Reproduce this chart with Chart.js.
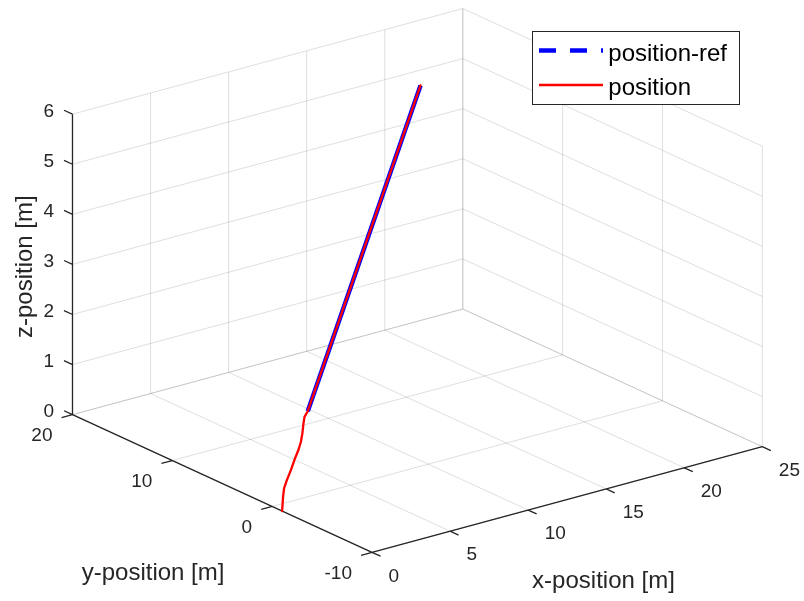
<!DOCTYPE html>
<html><head><meta charset="utf-8">
<script src="https://cdn.jsdelivr.net/npm/chart.js@4.4.1/dist/chart.umd.min.js"></script>
<style>html,body{margin:0;padding:0;background:#fff;}#wrap{width:804px;height:601px;position:relative;}</style>
</head><body><div id="wrap"><canvas id="c" width="804" height="601"></canvas></div>
<script>
// ---- axis limits and ticks ----
const xLim = [0, 25];
const yLim = [-10, 20];
const zLim = [0, 6];
const xTicks = [0, 5, 10, 15, 20, 25];
const yTicks = [-10, 0, 10, 20];
const zTicks = [0, 1, 2, 3, 4, 5, 6];
const xTitle = 'x-position [m]';
const yTitle = 'y-position [m]';
const zTitle = 'z-position [m]';
// ---- reference trajectory ----
const refLabel = 'position-ref';
const refX = [1, 20.5];
const refY = [-2, 17.2];
const refZ = [2, 5.1];
// ---- measured trajectory ----
const posLabel = 'position';
const posX = [0, 0, 0.01, 0.13, 0.33, 0.54, 0.69, 0.79, 0.83, 0.84, 0.85, 1, 20.5];
const posY = [-1, -1.09, -1.18, -1.27, -1.36, -1.45, -1.55, -1.64, -1.73, -1.82, -1.91, -2, 17.2];
const posZ = [0, 0.29, 0.47, 0.63, 0.82, 1.05, 1.21, 1.37, 1.55, 1.75, 1.89, 2, 5.1];

// ---- 3D view (MATLAB default az=-37.5, el=30) ----
const AZ = -37.5 * Math.PI / 180, EL = 30 * Math.PI / 180;
function proj(x, y, z) {
  const nx = (x - xLim[0]) / (xLim[1] - xLim[0]);
  const ny = (y - yLim[0]) / (yLim[1] - yLim[0]);
  const nz = (z - zLim[0]) / (zLim[1] - zLim[0]);
  return {
    x: Math.cos(AZ) * nx + Math.sin(AZ) * ny,
    y: -Math.sin(EL) * Math.sin(AZ) * nx + Math.sin(EL) * Math.cos(AZ) * ny + Math.cos(EL) * nz
  };
}
function segData(segs) {
  const out = [];
  segs.forEach((s, i) => {
    if (i) out.push({x: NaN, y: NaN});
    s.forEach(p => out.push(proj(p[0], p[1], p[2])));
  });
  return out;
}
function seriesData(X, Y, Z) { return X.map((v, i) => proj(v, Y[i], Z[i])); }

// grid lines on floor and the two back walls
const gridSegs = [];
xTicks.forEach(x => gridSegs.push([[x, yLim[0], zLim[0]], [x, yLim[1], zLim[0]]]));
yTicks.forEach(y => gridSegs.push([[xLim[0], y, zLim[0]], [xLim[1], y, zLim[0]]]));
xTicks.forEach(x => gridSegs.push([[x, yLim[1], zLim[0]], [x, yLim[1], zLim[1]]]));
zTicks.forEach(z => gridSegs.push([[xLim[0], yLim[1], z], [xLim[1], yLim[1], z]]));
yTicks.forEach(y => gridSegs.push([[xLim[1], y, zLim[0]], [xLim[1], y, zLim[1]]]));
zTicks.forEach(z => gridSegs.push([[xLim[1], yLim[0], z], [xLim[1], yLim[1], z]]));

// axis lines and tick marks
const xTickLen = 0.85, yTickLen = 0.7, zTickLen = 0.85;
const axisSegs = [
  [[xLim[0], yLim[0], zLim[0]], [xLim[1], yLim[0], zLim[0]]],
  [[xLim[0], yLim[0], zLim[0]], [xLim[0], yLim[1], zLim[0]]],
  [[xLim[0], yLim[1], zLim[0]], [xLim[0], yLim[1], zLim[1]]]
];
xTicks.forEach(x => axisSegs.push([[x, yLim[0], zLim[0]], [x, yLim[0] - xTickLen, zLim[0]]]));
yTicks.forEach(y => axisSegs.push([[xLim[0], y, zLim[0]], [xLim[0] - yTickLen, y, zLim[0]]]));
zTicks.forEach(z => axisSegs.push([[xLim[0], yLim[1], z], [xLim[0], yLim[1] + zTickLen, z]]));

const FONT = '"Liberation Sans", Arial, Helvetica, sans-serif';
const TXT = '#262626';

const textPlugin = {
  id: 'text3d',
  afterDraw(chart) {
    const ctx = chart.ctx, sx = chart.scales.x, sy = chart.scales.y;
    const px = (x, y, z) => { const p = proj(x, y, z); return [sx.getPixelForValue(p.x), sy.getPixelForValue(p.y)]; };
    ctx.save();
    ctx.fillStyle = TXT;
    ctx.textBaseline = 'alphabetic';
    ctx.font = '19px ' + FONT;
    ctx.textAlign = 'left';
    xTicks.forEach(t => { const [a, b] = px(t, yLim[0], zLim[0]); ctx.fillText(String(t), a + 16.5, b + 29.3); });
    ctx.textAlign = 'right';
    yTicks.forEach(t => { const [a, b] = px(xLim[0], t, zLim[0]); ctx.fillText(String(t), a - 20, b + 26.3); });
    zTicks.forEach(t => { const [a, b] = px(xLim[0], yLim[1], t); ctx.fillText(String(t), a - 18.5, b + 2.8); });
    ctx.font = '24px ' + FONT;
    ctx.textAlign = 'center';
    let [a, b] = px((xLim[0] + xLim[1]) / 2, yLim[0], zLim[0]);
    ctx.fillText(xTitle, a + 36.3, b + 89);
    [a, b] = px(xLim[0], (yLim[0] + yLim[1]) / 2, zLim[0]);
    ctx.fillText(yTitle, a - 69.2, b + 96.8);
    [a, b] = px(xLim[0], yLim[1], (zLim[0] + zLim[1]) / 2);
    ctx.save();
    ctx.translate(a - 40, b + 2.3);
    ctx.rotate(-Math.PI / 2);
    ctx.fillText(zTitle, 0, 0);
    ctx.restore();
    // legend
    const lx = 532.5, ly = 31.5, lw = 207, lh = 73;
    ctx.fillStyle = '#fff';
    ctx.fillRect(lx, ly, lw, lh);
    ctx.strokeStyle = TXT; ctx.lineWidth = 1;
    ctx.strokeRect(lx, ly, lw, lh);
    const items = chart.data.datasets.filter(d => d.legendDash !== undefined);
    items.sort((p, q) => p.legendRank - q.legendRank);
    items.forEach((d, i) => {
      const yy = 50.5 + i * 34.5;
      ctx.beginPath();
      ctx.setLineDash(d.legendDash);
      ctx.lineCap = 'butt';
      ctx.strokeStyle = d.borderColor; ctx.lineWidth = d.borderWidth;
      ctx.moveTo(539, yy); ctx.lineTo(603, yy); ctx.stroke();
      ctx.setLineDash([]);
      ctx.fillStyle = '#000';
      ctx.textAlign = 'left';
      ctx.fillText(d.label, 608.3, yy + 10);
    });
    ctx.restore();
  }
};

const OX = 372, OY = 552.3, SH = 492, SV = 347, W = 804, H = 601;
new Chart(document.getElementById('c'), {
  type: 'scatter',
  data: {
    datasets: [
      { label: posLabel, data: seriesData(posX, posY, posZ), showLine: true, borderColor: '#ff0000', borderWidth: 2.3,
        pointRadius: 0, order: 0, clip: false, borderJoinStyle: 'round', borderCapStyle: 'round', legendDash: [], legendRank: 1 },
      { label: refLabel, data: seriesData(refX, refY, refZ), showLine: true, borderColor: '#0000ff', borderWidth: 4.5,
        pointRadius: 0, order: 1, clip: false, legendDash: [17, 14], legendRank: 0 },
      { label: 'axes', data: segData(axisSegs), showLine: true, borderColor: '#262626', borderWidth: 1.3,
        pointRadius: 0, order: 2, clip: false, spanGaps: false },
      { label: 'grid', data: segData(gridSegs), showLine: true, borderColor: 'rgba(38,38,38,0.15)', borderWidth: 1,
        pointRadius: 0, order: 3, clip: false, spanGaps: false }
    ]
  },
  options: {
    responsive: false, animation: false, devicePixelRatio: 1, events: [],
    layout: { padding: 0 },
    plugins: { legend: { display: false }, tooltip: { enabled: false } },
    scales: {
      x: { type: 'linear', display: false, min: -OX / SH, max: (W - OX) / SH },
      y: { type: 'linear', display: false, min: -(H - OY) / SV, max: OY / SV }
    }
  },
  plugins: [textPlugin]
});
</script></body></html>
